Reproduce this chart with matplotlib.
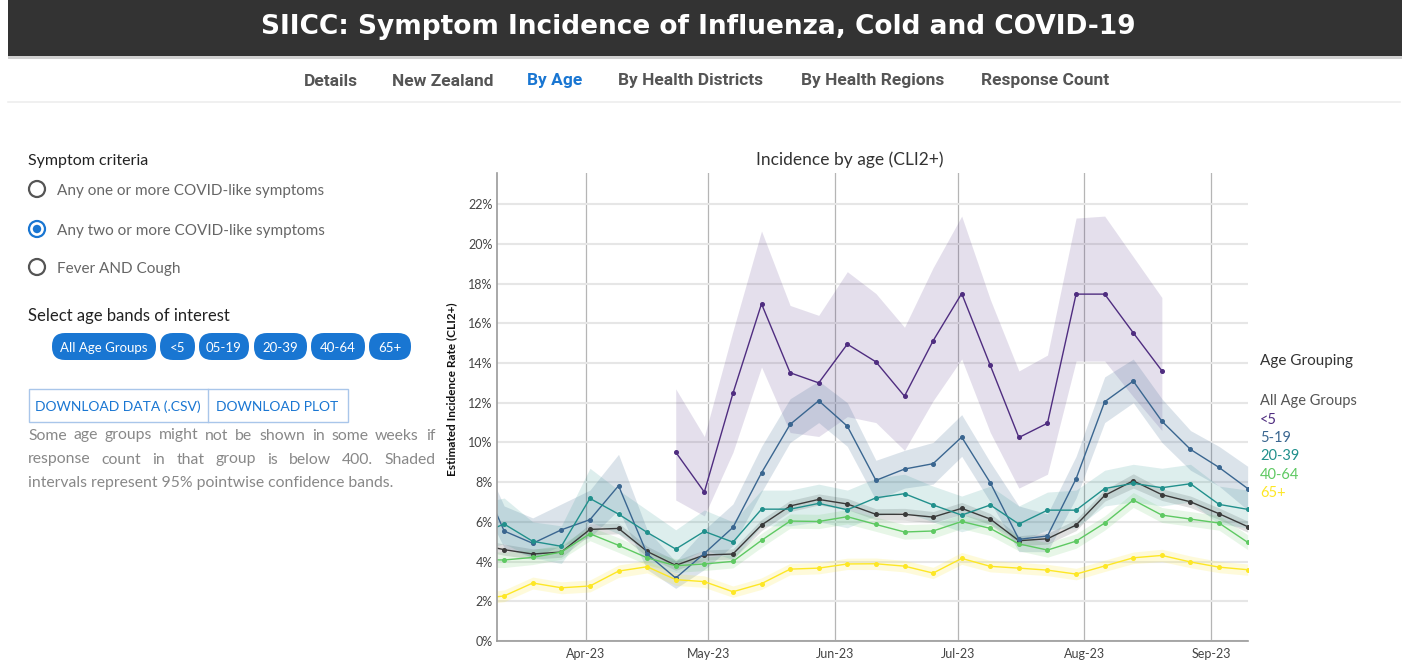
import numpy as np
import pandas as pd
import matplotlib
matplotlib.use('Agg')
import matplotlib.pyplot as plt
import matplotlib.dates as mdates
from matplotlib.patches import Rectangle, FancyBboxPatch, Circle

nan = np.nan

# weekly estimates (%)
weeks = ['2023-03-05', '2023-03-12', '2023-03-19', '2023-03-26', '2023-04-02', '2023-04-09',
         '2023-04-16', '2023-04-23', '2023-04-30', '2023-05-07', '2023-05-14', '2023-05-21',
         '2023-05-28', '2023-06-04', '2023-06-11', '2023-06-18', '2023-06-25', '2023-07-02',
         '2023-07-09', '2023-07-16', '2023-07-23', '2023-07-30', '2023-08-06', '2023-08-13',
         '2023-08-20', '2023-08-27', '2023-09-03', '2023-09-10']

all_val = [4.90, 4.60, 4.38, 4.48, 5.62, 5.67, 4.51, 3.81, 4.33, 4.38, 5.84, 6.80, 7.13, 6.90,
           6.38, 6.38, 6.24, 6.68, 6.14, 5.05, 5.15, 5.84, 7.33, 8.07, 7.37, 7.01, 6.41, 5.76]
all_lo = [4.60, 4.32, 4.12, 4.22, 5.34, 5.40, 4.25, 3.56, 4.08, 4.12, 5.56, 6.52, 6.85, 6.62,
          6.10, 6.08, 5.96, 6.38, 5.86, 4.80, 4.88, 5.56, 7.04, 7.70, 7.08, 6.72, 6.12, 5.48]
all_hi = [5.20, 4.88, 4.64, 4.74, 5.90, 5.94, 4.77, 4.06, 4.58, 4.64, 6.12, 7.08, 7.41, 7.18,
          6.66, 6.68, 6.52, 6.98, 6.42, 5.30, 5.42, 6.12, 7.62, 8.42, 7.66, 7.30, 6.70, 6.04]

u5_val = [nan, nan, nan, nan, nan, nan, nan, 9.51, 7.50, 12.47, 16.98, 13.51, 13.00, 14.95,
          14.06, 12.33, 15.12, 17.50, 13.88, 10.25, 10.97, 17.47, 17.47, 15.52, 13.61, nan, nan, nan]
u5_lo = [nan, nan, nan, nan, nan, nan, nan, 7.10, 6.30, 9.50, 13.80, 10.50, 10.30, 11.30,
         11.00, 9.60, 12.10, 14.20, 10.50, 7.70, 8.40, 14.10, 14.10, 12.30, 10.60, nan, nan, nan]
u5_hi = [nan, nan, nan, nan, nan, nan, nan, 12.70, 10.30, 15.60, 20.65, 16.90, 16.40, 18.60,
         17.50, 15.80, 18.80, 21.40, 17.20, 13.60, 14.40, 21.30, 21.40, 19.35, 17.30, nan, nan, nan]

a519_val = [8.80, 5.54, 4.92, 5.60, 6.11, 7.82, 4.38, 3.17, 4.41, 5.72, 8.47, 10.91, 12.10, 10.82,
            8.09, 8.66, 8.93, 10.27, 7.97, 5.12, 5.29, 8.17, 12.05, 13.09, 11.07, 9.65, 8.74, 7.68]
a519_lo = [7.60, 4.70, 4.20, 4.80, 5.20, 6.60, 3.60, 2.65, 3.60, 4.80, 7.50, 10.00, 11.00, 9.80,
           7.10, 7.70, 7.90, 9.30, 7.00, 4.50, 4.50, 7.20, 11.00, 12.00, 10.00, 8.60, 7.80, 6.60]
a519_hi = [10.00, 6.80, 6.20, 6.90, 7.60, 9.40, 5.60, 4.00, 5.60, 6.90, 9.80, 12.20, 13.10, 12.00,
           9.10, 9.60, 10.00, 11.40, 9.00, 6.80, 6.40, 9.30, 13.30, 14.20, 12.20, 10.60, 9.80, 8.80]

a2039_val = [5.30, 5.89, 5.02, 4.77, 7.18, 6.39, 5.47, 4.63, 5.52, 4.98, 6.64, 6.64, 6.93, 6.61,
             7.21, 7.42, 6.85, 6.34, 6.85, 5.89, 6.59, 6.59, 7.68, 7.94, 7.72, 7.92, 6.88, 6.63]
a2039_lo = [4.50, 4.90, 4.20, 3.90, 6.00, 5.40, 4.60, 3.90, 4.60, 4.10, 5.80, 5.80, 6.00, 5.70,
            6.30, 6.50, 6.00, 5.50, 5.90, 5.00, 5.60, 5.70, 6.80, 7.00, 6.80, 7.00, 5.90, 5.70]
a2039_hi = [6.90, 7.20, 6.00, 5.80, 8.70, 7.60, 6.60, 5.60, 6.60, 6.00, 7.60, 7.60, 7.90, 7.60,
            8.20, 8.40, 7.80, 7.30, 7.80, 6.80, 7.50, 7.60, 8.60, 8.90, 8.70, 8.90, 7.80, 7.60]

a4064_val = [4.10, 4.08, 4.21, 4.48, 5.40, 4.82, 4.19, 3.79, 3.88, 4.01, 5.07, 6.04, 6.02, 6.26,
             5.87, 5.49, 5.54, 6.02, 5.67, 4.89, 4.58, 5.03, 5.94, 7.10, 6.34, 6.14, 5.94, 4.97]
a4064_lo = [3.70, 3.70, 3.85, 4.12, 5.05, 4.46, 3.84, 3.45, 3.55, 3.68, 4.72, 5.68, 5.66, 5.90,
            5.52, 5.13, 5.18, 5.66, 5.31, 4.54, 4.22, 4.67, 5.58, 6.73, 5.97, 5.78, 5.58, 4.60]
a4064_hi = [4.50, 4.48, 4.60, 4.86, 5.76, 5.20, 4.56, 4.14, 4.22, 4.36, 5.42, 6.40, 6.38, 6.62,
            6.24, 5.86, 5.90, 6.38, 6.04, 5.25, 4.95, 5.40, 6.30, 7.48, 6.72, 6.52, 6.32, 5.35]

a65_val = [2.10, 2.27, 2.92, 2.68, 2.77, 3.52, 3.74, 3.09, 2.99, 2.48, 2.89, 3.62, 3.67, 3.88,
           3.89, 3.77, 3.42, 4.16, 3.76, 3.67, 3.57, 3.37, 3.78, 4.19, 4.31, 3.98, 3.72, 3.59]
a65_lo = [1.80, 1.98, 2.62, 2.38, 2.47, 3.20, 3.43, 2.80, 2.70, 2.20, 2.60, 3.33, 3.38, 3.60,
          3.60, 3.48, 3.14, 3.86, 3.48, 3.39, 3.29, 3.08, 3.50, 3.90, 4.00, 3.69, 3.44, 3.31]
a65_hi = [2.40, 2.57, 3.22, 2.98, 3.07, 3.83, 4.05, 3.40, 3.28, 2.77, 3.18, 3.91, 3.96, 4.17,
          4.18, 4.06, 3.71, 4.46, 4.05, 3.96, 3.86, 3.66, 4.07, 4.48, 4.62, 4.28, 4.01, 3.88]

groups = ['All Age Groups', '<5', '5-19', '20-39', '40-64', '65+']
colors = ['#3a3a3a', '#4f2d80', '#3a6690', '#21908c', '#5ec962', '#fde725']
legend_colors = ['#555555', '#4f2d80', '#3a6690', '#21908c', '#5ec962', '#fde725']
band_alpha = [0.16, 0.15, 0.18, 0.15, 0.15, 0.17]
series = [(all_val, all_lo, all_hi), (u5_val, u5_lo, u5_hi), (a519_val, a519_lo, a519_hi),
          (a2039_val, a2039_lo, a2039_hi), (a4064_val, a4064_lo, a4064_hi), (a65_val, a65_lo, a65_hi)]

pills = ['All Age Groups', '<5', '05-19', '20-39', '40-64', '65+']
pill_x = [(52, 156), (160, 195), (199, 249), (254, 307), (311, 365), (369, 411)]
nav = ['Details', 'New Zealand', 'By Age', 'By Health Districts', 'By Health Regions', 'Response Count']
nav_x = [331, 443, 555, 690, 873, 1045]
radios = ['Any one or more COVID-like symptoms', 'Any two or more COVID-like symptoms', 'Fever AND Cough']
radio_y = [189, 229, 267]

W, H = 1408, 662
BODY = 'Lato'
BLUE = '#1976d2'

fig = plt.figure(figsize=(W / 100, H / 100), dpi=100)
bg = fig.add_axes([0, 0, 1, 1])
bg.set_xlim(0, W)
bg.set_ylim(H, 0)
bg.axis('off')

# header bar + navigation
bg.add_patch(Rectangle((8, 0), W - 14, 56, color='#333333', lw=0))
bg.add_patch(Rectangle((8, 56), W - 14, 3, color='#d0d0d0', lw=0))
bg.text(698, 27, 'SIICC: Symptom Incidence of Influenza, Cold and COVID-19', color='white',
        ha='center', va='center', fontsize=19, family='DejaVu Sans', weight='bold')
for name, x in zip(nav, nav_x):
    bg.text(x, 81, name, ha='center', va='center', fontsize=12.5, family='Roboto', weight='bold',
            color=BLUE if name == 'By Age' else '#555555')
bg.plot([8, 1400], [102, 102], color='#eeeeee', lw=1.2)

# left control panel
bg.text(28, 160.5, 'Symptom criteria', fontsize=11.5, family=BODY, color='#222222', va='center')
for i, (lab, y) in enumerate(zip(radios, radio_y)):
    sel = i == 1
    bg.add_patch(Circle((37, y), 8, fill=False, ec=BLUE if sel else '#555555', lw=1.6))
    if sel:
        bg.add_patch(Circle((37, y), 4.2, color=BLUE, lw=0))
    bg.text(57, y + 1.5, lab, fontsize=11, family=BODY, color='#666666', va='center')

bg.text(28, 315.5, 'Select age bands of interest', fontsize=12, family=BODY, color='#222222', va='center')
for lab, (x0, x1) in zip(pills, pill_x):
    bg.add_patch(FancyBboxPatch((x0, 333), x1 - x0, 27,
                                boxstyle='round,pad=0,rounding_size=13', color=BLUE, lw=0))
    bg.text((x0 + x1) / 2, 347.5, lab, ha='center', va='center', fontsize=9.5, family=BODY,
            color='white')

bg.add_patch(Rectangle((28.5, 389), 319, 32.5, fill=False, ec='#a9c6ea', lw=1))
bg.plot([207.5, 207.5], [389, 421.5], color='#a9c6ea', lw=1)
bg.text(118, 407, 'DOWNLOAD DATA (.CSV)', ha='center', va='center', fontsize=10, family=BODY, color=BLUE)
bg.text(277, 407, 'DOWNLOAD PLOT', ha='center', va='center', fontsize=10, family=BODY, color=BLUE)


def justify(words, x0, x1, y, **kw):
    r = fig.canvas.get_renderer()
    ts = [bg.text(0, y, w, va='center', **kw) for w in words]
    ws = [t.get_window_extent(r).width for t in ts]
    gap = (x1 - x0 - sum(ws)) / (len(ws) - 1)
    x = x0
    for t, w in zip(ts, ws):
        t.set_x(x)
        x += w + gap


note_kw = dict(fontsize=11.3, family=BODY, color='#888888')
justify('Some age groups might not be shown in some weeks if'.split(), 28, 435, 435.5, **note_kw)
justify('response count in that group is below 400. Shaded'.split(), 28, 435, 459.5, **note_kw)
bg.text(28, 483.5, 'intervals represent 95% pointwise confidence bands.', va='center', **note_kw)

# chart
dates = pd.to_datetime(weeks)
ax = fig.add_axes([497 / W, 21 / H, 751 / W, 468 / H])
ax.set_facecolor('none')
for (val, lo, hi), c, a in zip(series, colors, band_alpha):
    ax.fill_between(dates, lo, hi, color=c, alpha=a, lw=0)
for (val, lo, hi), c in zip(series, colors):
    ax.plot(dates, val, color=c, lw=1.0, marker='o', ms=2.6)

ax.set_xlim(pd.Timestamp('2023-03-10 06:00'), pd.Timestamp('2023-09-10 02:00'))
ax.set_ylim(0, 23.57)
ax.set_yticks(np.arange(0, 23, 2))
ax.set_yticklabels([f'{v}%' for v in range(0, 23, 2)])
ax.xaxis.set_major_locator(mdates.MonthLocator())
ax.xaxis.set_major_formatter(mdates.DateFormatter('%b-%y'))
ax.tick_params(length=0, labelsize=9, labelcolor='#444444')
ax.tick_params(axis='y', pad=3)
ax.tick_params(axis='x', pad=5)
for lab in ax.get_xticklabels() + ax.get_yticklabels():
    lab.set_family(BODY)
ax.grid(axis='y', color='#e6e6e6', lw=1.5)
ax.grid(axis='x', color='#b5b5b5', lw=0.9)
ax.set_axisbelow(True)
for s in ['top', 'right']:
    ax.spines[s].set_visible(False)
for s in ['left', 'bottom']:
    ax.spines[s].set_color('#9a9a9a')
    ax.spines[s].set_linewidth(1.2)

bg.text(850, 160, 'Incidence by age (CLI2+)', ha='center', va='center', fontsize=12.5,
        family=BODY, color='#333333')
bg.text(452, 389, 'Estimated Incidence Rate (CLI2+)', rotation=90, ha='center', va='center',
        fontsize=8.5, family=BODY, weight='bold', color='#111111')

# legend
bg.text(1260, 361, 'Age Grouping', fontsize=11, family=BODY, color='#333333', va='center')
for g, c, y in zip(groups, legend_colors, [400, 419, 437, 455, 474, 492]):
    bg.text(1260, y + 1, g, fontsize=10.5, family=BODY, color=c, va='center')

fig.savefig('out.png', dpi=100)
